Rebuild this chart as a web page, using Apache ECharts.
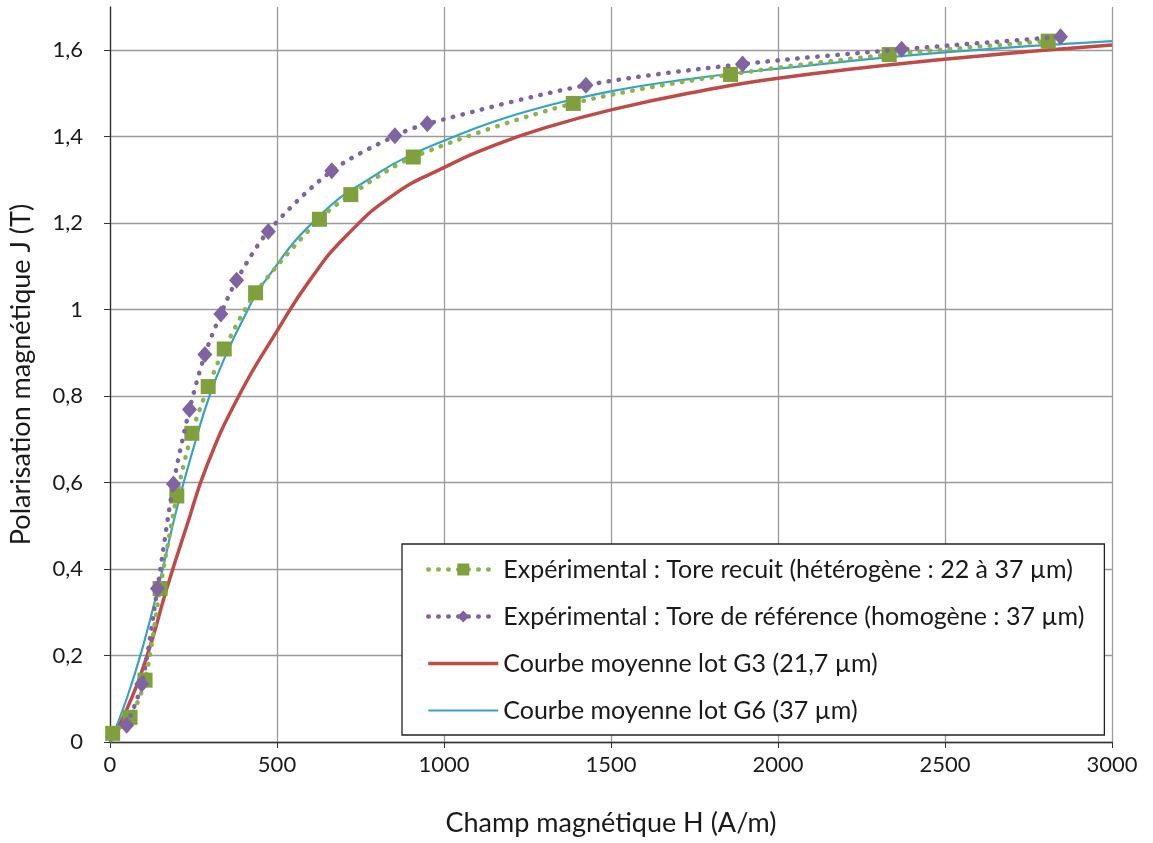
<!DOCTYPE html>
<html>
<head>
<meta charset="utf-8">
<script src="https://cdn.jsdelivr.net/npm/echarts@6/dist/echarts.min.js"></script>
<style>html,body{margin:0;padding:0;background:#fff}#c{width:1153px;height:843px}</style>
</head>
<body>
<div id="c"></div>
<script>
// Expérimental : Tore recuit (hétérogène)
const recuitH = [8, 60, 105, 150, 200, 245, 294, 342, 436, 627, 721, 908, 1387, 1858, 2333, 2809];
const recuitJ = [0.02, 0.057, 0.143, 0.355, 0.569, 0.714, 0.822, 0.909, 1.039, 1.209, 1.266, 1.353, 1.477, 1.544, 1.590, 1.621];
// Expérimental : Tore de référence (homogène)
const refH = [50, 95, 142, 190, 238, 284, 332, 379, 474, 664, 853, 950, 1425, 1894, 2370, 2846];
const refJ = [0.039, 0.134, 0.355, 0.597, 0.769, 0.896, 0.990, 1.068, 1.181, 1.321, 1.402, 1.430, 1.519, 1.568, 1.602, 1.631];
// Courbe moyenne lot G3
const g3H = [0, 45, 110, 170, 230, 289, 384, 499, 600, 709, 848, 998, 1150, 1300, 1500, 1750, 2006, 2498, 3000];
const g3J = [0, 0.066, 0.197, 0.355, 0.5, 0.637, 0.798, 0.949, 1.07, 1.172, 1.265, 1.328, 1.38, 1.42, 1.462, 1.503, 1.536, 1.579, 1.612];
// Courbe moyenne lot G6
const g6H = [0, 50, 100, 150, 200, 250, 300, 350, 400, 459, 629, 808, 908, 998, 1150, 1287, 1499, 1750, 2006, 2498, 3000];
const g6J = [0, 0.1, 0.225, 0.375, 0.54, 0.68, 0.805, 0.9, 0.98, 1.061, 1.218, 1.318, 1.36, 1.39, 1.435, 1.467, 1.505, 1.535, 1.558, 1.595, 1.621];

const names = [
  'Expérimental : Tore recuit (hétérogène : 22 à 37 µm)',
  'Expérimental : Tore de référence (homogène : 37 µm)',
  'Courbe moyenne lot G3 (21,7 µm)',
  'Courbe moyenne lot G6 (37 µm)'
];
const zip = (a, b) => a.map((v, i) => [v, b[i]]);
const FONT = 'Lato';
const fmt = v => String(v).replace('.', ',');

const chart = echarts.init(document.getElementById('c'), null, {renderer: 'canvas'});
chart.setOption({
  animation: false,
  backgroundColor: '#fff',
  textStyle: {fontFamily: FONT},
  grid: {left: 110, right: 41, top: 7, bottom: 101, containLabel: false},
  xAxis: {
    type: 'value', min: 0, max: 3000, interval: 500,
    name: 'Champ magnétique H (A/m)', nameLocation: 'middle', nameGap: 68,
    nameTextStyle: {fontSize: 27, color: '#1a1a1a', fontFamily: FONT},
    axisLine: {show: true, lineStyle: {color: '#333', width: 1.3}},
    axisTick: {show: true, inside: false, length: 6, lineStyle: {color: '#333'}},
    axisLabel: {fontSize: 22, color: '#1a1a1a', margin: 12, fontFamily: FONT, formatter: v => String(v)},
    splitLine: {show: true, lineStyle: {color: '#9a9a9a', width: 1.3}}
  },
  yAxis: {
    type: 'value', min: 0, max: 1.7, interval: 0.2,
    name: 'Polarisation magnétique J (T)', nameLocation: 'middle', nameGap: 75,
    nameTextStyle: {fontSize: 27, color: '#1a1a1a', fontFamily: FONT},
    axisLine: {show: true, lineStyle: {color: '#333', width: 1.3}},
    axisTick: {show: true, inside: false, length: 6, lineStyle: {color: '#333'}},
    axisLabel: {fontSize: 22, color: '#1a1a1a', margin: 27, fontFamily: FONT, showMaxLabel: false,
      formatter: v => (v > 1.65 ? '' : fmt(Math.round(v * 10) / 10))},
    splitLine: {show: true, showMaxLine: false, lineStyle: {color: '#9a9a9a', width: 1.3}}
  },
  legend: {
    show: true, orient: 'vertical', left: 402, top: 544,
    padding: [13, 20, 12, 24],
    backgroundColor: '#fff', borderColor: '#222', borderWidth: 1.3,
    itemWidth: 70, itemHeight: 15, itemGap: 22,
    textStyle: {fontSize: 25, color: '#1a1a1a', fontFamily: FONT},
    data: [
      {name: names[0], lineStyle: {width: 4.5}},
      {name: names[1], lineStyle: {width: 4.5}},
      {name: names[2], itemStyle: {opacity: 0}, lineStyle: {width: 3.5}},
      {name: names[3], itemStyle: {opacity: 0}, lineStyle: {width: 2.2}}
    ]
  },
  series: [
    {
      name: names[0], type: 'line', data: zip(recuitH, recuitJ), smooth: 0.3,
      symbol: 'rect', symbolSize: 15, showAllSymbol: true, z: 4,
      itemStyle: {color: '#7FA03C'},
      lineStyle: {color: '#8DB44A', width: 4.5, type: [0.5, 9.5], cap: 'round'}
    },
    {
      name: names[1], type: 'line', data: zip(refH, refJ), smooth: 0.3,
      symbol: 'diamond', symbolSize: [15, 17], showAllSymbol: true, z: 5,
      itemStyle: {color: '#8064A2'},
      lineStyle: {color: '#8064A2', width: 4.5, type: [0.5, 9.5], cap: 'round'}
    },
    {
      name: names[2], type: 'line', data: zip(g3H, g3J), smooth: true,
      symbol: 'none', z: 3,
      itemStyle: {color: '#BE4B48'},
      lineStyle: {color: '#BE4B48', width: 3.5}
    },
    {
      name: names[3], type: 'line', data: zip(g6H, g6J), smooth: true,
      symbol: 'none', z: 3,
      itemStyle: {color: '#36A3C2'},
      lineStyle: {color: '#36A3C2', width: 2.2}
    }
  ]
});
</script>
</body>
</html>
